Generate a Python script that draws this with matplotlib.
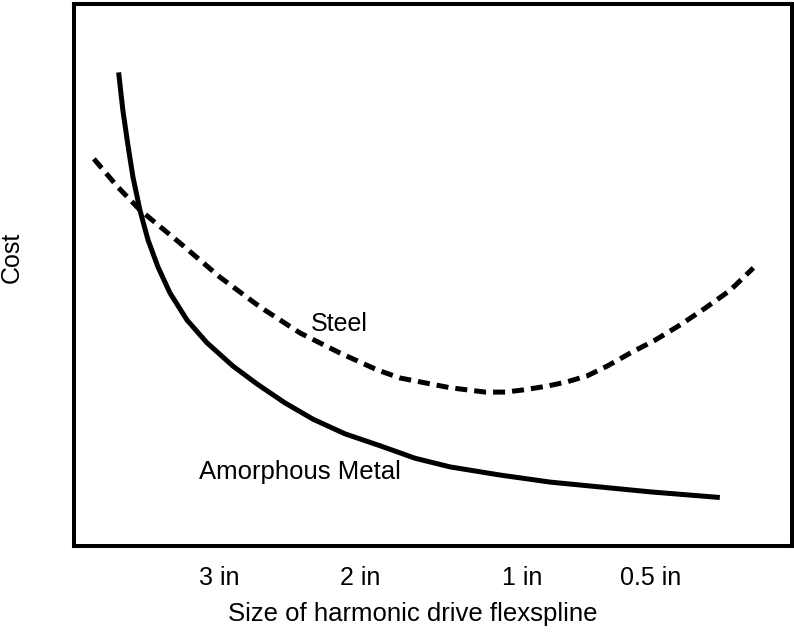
import matplotlib.pyplot as plt

plt.rcParams['font.family'] = ['Liberation Sans', 'DejaVu Sans']

# relative position along the size axis (0-100) and relative cost (0-100)
metal_x = [6.27, 6.82, 7.52, 8.22, 9.19, 10.31, 11.70, 13.37, 15.74, 18.52, 22.14,
           25.49, 29.39, 33.29, 37.74, 42.62, 47.49, 52.37, 59.33, 66.30, 73.26,
           80.22, 89.55]
metal_y = [86.9, 80.4, 74.0, 68.1, 62.0, 56.5, 51.5, 46.7, 41.7, 37.5, 33.2,
           29.9, 26.4, 23.4, 20.7, 18.5, 16.2, 14.6, 13.1, 11.8, 10.9,
           10.0, 9.0]

steel_x = [2.79, 6.13, 9.19, 14.76, 20.33, 25.91, 31.48, 37.05, 42.20, 45.40, 52.37,
           57.24, 60.03, 62.53, 65.88, 68.66, 71.45, 74.23, 77.44, 80.92, 84.40,
           87.88, 91.36, 94.57]
steel_y = [71.4, 66.2, 62.0, 55.9, 49.6, 44.1, 39.3, 35.6, 32.5, 31.0, 29.2,
           28.4, 28.4, 28.8, 29.5, 30.3, 31.4, 33.2, 35.6, 38.0, 40.8,
           43.9, 47.2, 51.3]

size_ticks = [20.3, 39.8, 62.4, 80.2]
size_labels = ["3 in", "2 in", "1 in", "0.5 in"]

fig = plt.figure(figsize=(7.94, 6.35), dpi=100)
ax = fig.add_axes([0.093, 0.140, 0.905, 0.854])

ax.plot(metal_x, metal_y, color='black', lw=3.6, solid_joinstyle='round')
ax.plot(steel_x, steel_y, color='black', lw=3.6, ls=(0, (2.4, 1.4)))

ax.text(37.0, 41.0, "Steel", fontsize=18, ha='center', va='center')
ax.text(31.5, 13.6, "Amorphous Metal", fontsize=18.5, ha='center', va='center')

ax.set_xlim(0, 100)
ax.set_ylim(0, 100)
ax.set_xticks(size_ticks)
ax.set_xticklabels(size_labels, fontsize=18)
ax.set_yticks([])
ax.tick_params(axis='x', length=0, pad=14)
ax.set_xlabel("Size of harmonic drive flexspline", fontsize=18.5, labelpad=9)
ax.xaxis.label.set_x(0.472)

fig.text(12 / 794, 1 - 257 / 635, "Cost", fontsize=18, rotation=90,
         ha='center', va='center')

for spine in ax.spines.values():
    spine.set_linewidth(2.9)

fig.savefig("out.png", dpi=100)
